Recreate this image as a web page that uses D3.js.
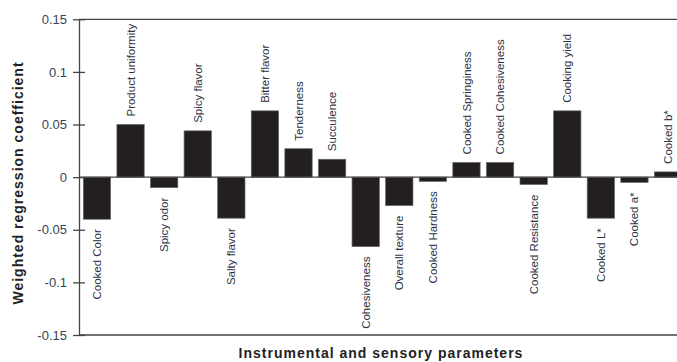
<!DOCTYPE html>
<html><head><meta charset="utf-8">
<script src="https://cdn.jsdelivr.net/npm/d3@7"></script>
<style>body{margin:0;background:#fff}svg{display:block}</style>
</head><body>
<svg id="c" width="677" height="362"></svg>
<script>
const categories = ["Cooked Color","Product uniformity","Spicy odor","Spicy flavor","Salty flavor","Bitter flavor","Tenderness","Succulence","Cohesiveness","Overall texture","Cooked Hardness","Cooked Springiness","Cooked Cohesiveness","Cooked Resistance","Cooking yield","Cooked L*","Cooked a*","Cooked b*"];
const values = [-0.040,0.050,-0.010,0.044,-0.039,0.063,0.027,0.017,-0.066,-0.027,-0.004,0.014,0.014,-0.007,0.063,-0.039,-0.005,0.005];
const yTicks = [0.15,0.1,0.05,0,-0.05,-0.1,-0.15];
const yTickLabels = ["0.15","0.1","0.05","0","-0.05","-0.1","-0.15"];
const yTitle = "Weighted regression coefficient";
const xTitle = "Instrumental and sensory parameters";

const svg = d3.select("#c");
const x0 = 79, x1 = 686, yTop = 19.3, yBot = 335;
const x = d3.scaleBand().domain(categories).range([x0, x1]).paddingInner(0.187).paddingOuter(0.128);
const y = d3.scaleLinear().domain([-0.15, 0.15]).range([yBot, yTop]);
const ink = "#2a2a2a";

// frame lines top/bottom
svg.append("line").attr("x1", x0).attr("x2", 677).attr("y1", y(0.15)).attr("y2", y(0.15)).attr("stroke", "#444").attr("stroke-width", 1.3);
svg.append("line").attr("x1", x0).attr("x2", 677).attr("y1", y(-0.15)).attr("y2", y(-0.15)).attr("stroke", "#444").attr("stroke-width", 1.3);

// bars
svg.append("g").selectAll("rect").data(values).join("rect")
  .attr("x", (d,i) => x(categories[i]))
  .attr("width", x.bandwidth())
  .attr("y", d => y(Math.max(0, d)))
  .attr("height", d => Math.abs(y(d) - y(0)))
  .attr("fill", "#231f20").attr("stroke", "#666").attr("stroke-width", 0.7);

// zero line
svg.append("line").attr("x1", x0).attr("x2", 677).attr("y1", y(0)).attr("y2", y(0)).attr("stroke", "#444").attr("stroke-width", 1.3);

// bar labels
svg.append("g").selectAll("text").data(values).join("text")
  .attr("transform", (d,i) => {
    const cx = x(categories[i]) + x.bandwidth()/2;
    const yy = d >= 0 ? y(d) - 8 : y(d) + 10;
    return `translate(${cx},${yy}) rotate(-90)`;
  })
  .attr("text-anchor", d => d >= 0 ? "start" : "end")
  .attr("dy", "0.35em")
  .attr("font-family", "Liberation Sans, Arial, sans-serif")
  .attr("font-size", 11.5)
  .attr("fill", "#2d3344")
  .text((d,i) => categories[i]);

// y axis
const axis = d3.axisLeft(y).tickValues(yTicks).tickFormat((d,i) => yTickLabels[i]).tickSizeOuter(0).tickSizeInner(6).tickPadding(6);
const g = svg.append("g").attr("transform", `translate(${x0},0)`).call(axis);
g.select(".domain").attr("stroke", "#444").attr("stroke-width", 1.3);
g.selectAll(".tick line").attr("x1", 6).attr("x2", -6).attr("stroke", "#444").attr("stroke-width", 1.3);
g.selectAll(".tick text").attr("font-family", "Liberation Sans, Arial, sans-serif").attr("font-size", 13).attr("fill", "#3a3f55").attr("x", -12);

// titles
svg.append("text").attr("transform", `translate(18,183) rotate(-90)`)
  .attr("text-anchor", "middle").attr("dy", "0.35em")
  .attr("font-family", "Liberation Sans, Arial, sans-serif").attr("font-weight", "bold")
  .attr("font-size", 14).attr("letter-spacing", 1).attr("fill", "#222").text(yTitle);
svg.append("text").attr("x", 381).attr("y", 353).attr("text-anchor", "middle").attr("dy", "0.35em")
  .attr("font-family", "Liberation Sans, Arial, sans-serif").attr("font-weight", "bold")
  .attr("font-size", 14).attr("letter-spacing", 1).attr("fill", "#222").text(xTitle);
</script>
</body></html>
